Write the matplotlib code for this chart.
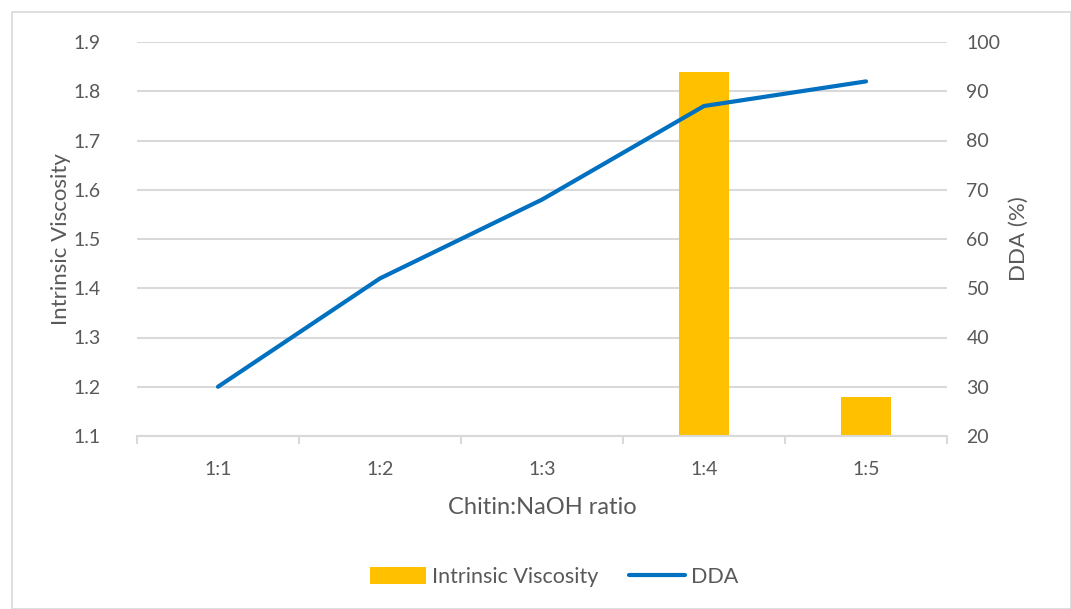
import numpy as np
import matplotlib
matplotlib.use("Agg")
import matplotlib.pyplot as plt
from matplotlib.patches import Rectangle

plt.rcParams['font.family'] = ['Lato', 'DejaVu Sans']

# data
ratios = ['1:1', '1:2', '1:3', '1:4', '1:5']
viscosity = [np.nan, np.nan, np.nan, 1.84, 1.18]
dda = [30, 52, 68, 87, 92]

text_col = '#595959'
grid_col = '#d9d9d9'

fig = plt.figure(figsize=(10.71, 6.09), dpi=100)
# outer chart border
fig.patches.append(Rectangle((12 / 1071, 0), 1 - 12 / 1071, 1 - 12 / 609,
                             transform=fig.transFigure, fill=False,
                             edgecolor='#d9d9d9', linewidth=1.2))

ax = fig.add_axes([137 / 1071, 1 - 436 / 609, 810 / 1071, 394 / 609])
x = np.arange(len(ratios))

bars = ax.bar(x, np.array(viscosity) - 1.1, bottom=1.1, width=0.31,
              color='#FFC000', label='Intrinsic Viscosity', zorder=2)
ax.set_ylim(1.1, 1.9)
ax.set_yticks(np.arange(1.1, 1.91, 0.1))
ax.set_yticklabels(['%.1f' % v for v in np.arange(1.1, 1.91, 0.1)])
ax.set_xlim(-0.5, 4.5)
ax.set_xticks(x)
ax.set_xticklabels(ratios)
ax.set_xticks(np.arange(-0.5, 4.6, 1), minor=True)
ax.grid(axis='y', color=grid_col, linewidth=1.5, zorder=0)
ax.set_axisbelow(True)
for s in ['top', 'right', 'left']:
    ax.spines[s].set_visible(False)
ax.spines['bottom'].set_color(grid_col)
ax.spines['bottom'].set_linewidth(1.5)
ax.tick_params(axis='y', length=0, labelsize=14, labelcolor=text_col, pad=26)
ax.tick_params(axis='x', which='major', length=0, labelsize=14,
               labelcolor=text_col, pad=18)
ax.tick_params(axis='x', which='minor', length=6, color=grid_col, width=1.5)
ax.set_ylabel('Intrinsic Viscosity', fontsize=16, color=text_col, labelpad=2)
ax.set_xlabel('Chitin:NaOH ratio', fontsize=17, color=text_col, labelpad=14)

ax2 = ax.twinx()
line, = ax2.plot(x, dda, color='#0070C0', linewidth=3, label='DDA',
                 solid_capstyle='round', solid_joinstyle='round', zorder=3)
ax2.set_ylim(20, 100)
ax2.set_yticks(np.arange(20, 101, 10))
for s in ['top', 'right', 'left', 'bottom']:
    ax2.spines[s].set_visible(False)
ax2.tick_params(axis='y', length=0, labelsize=14, labelcolor=text_col, pad=14)
ax2.set_ylabel('DDA (%)', fontsize=16, color=text_col, labelpad=6)

fig.legend([bars, line], ['Intrinsic Viscosity', 'DDA'], loc='center',
           bbox_to_anchor=(554 / 1071, 1 - 577 / 609), ncol=2, frameon=False,
           fontsize=15.5, labelcolor=text_col, handlelength=2.6,
           handleheight=0.8, columnspacing=1.4, handletextpad=0.3)

fig.savefig('out.png', dpi=100)
